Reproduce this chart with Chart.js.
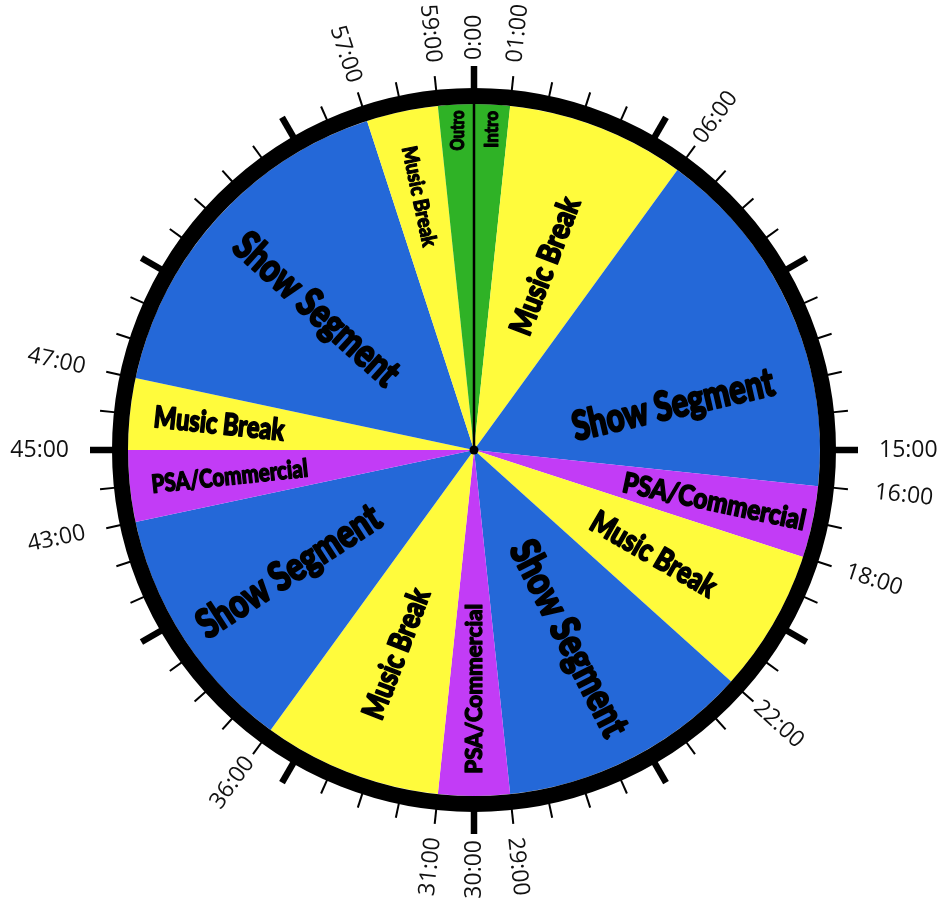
<!DOCTYPE html>
<html>
<head>
<meta charset="utf-8"/>
<title>Show clock</title>
<script src="https://cdn.jsdelivr.net/npm/chart.js"></script>
<style>
  html, body { margin: 0; padding: 0; background: #fff; }
  #wrap { width: 946px; height: 907px; }
</style>
</head>
<body>
<div id="wrap"><canvas id="clock"></canvas></div>
<script>
// one hour of the show, in minutes, clockwise from 0:00
var segments = ['Intro', 'Music Break', 'Show Segment', 'PSA/Commercial', 'Music Break',
                'Show Segment', 'PSA/Commercial', 'Music Break', 'Show Segment', 'PSA/Commercial',
                'Music Break', 'Show Segment', 'Music Break', 'Outro'];
var minutes = [1, 5, 10, 2, 4, 7, 2, 5, 7, 2, 2, 10, 2, 1];
var tickMinutes = [0, 1, 6, 15, 16, 18, 22, 29, 30, 31, 36, 43, 45, 47, 57, 59];
var tickLabels = ['0:00', '01:00', '06:00', '15:00', '16:00', '18:00', '22:00', '29:00',
                  '30:00', '31:00', '36:00', '43:00', '45:00', '47:00', '57:00', '59:00'];

var colours = {
    'Intro': '#2fb226', 'Outro': '#2fb226',
    'Music Break': '#fffb3c',
    'Show Segment': '#2468d8',
    'PSA/Commercial': '#c23cf6'
};

// label look per wedge: radius (share of pie radius), font px, text length px, angle shift (deg)
var labelStyle = [
    { r: 0.928, px: 19, len: 37 },
    { r: 0.57,  px: 31, len: 145 },
    { r: 0.59,  px: 40, len: 206, shift: 11 },
    { r: 0.71,  px: 28, len: 186 },
    { r: 0.60,  px: 31, len: 140 },
    { r: 0.61,  px: 40, len: 214 },
    { r: 0.69,  px: 22, len: 170 },
    { r: 0.63,  px: 31, len: 137 },
    { r: 0.64,  px: 40, len: 211 },
    { r: 0.71,  px: 25, len: 157 },
    { r: 0.74,  px: 30, len: 131 },
    { r: 0.61,  px: 40, len: 208 },
    { r: 0.75,  px: 21, len: 102 },
    { r: 0.925, px: 19, len: 40 }
];

function norm(a) {
    while (a > 180) a -= 360;
    while (a <= -180) a += 360;
    return a;
}

var clockFace = {
    id: 'clockFace',
    afterDatasetsDraw: function(chart) {
        var ctx = chart.ctx;
        var arcs = chart.getDatasetMeta(0).data;
        var cx = arcs[0].x, cy = arcs[0].y, R = arcs[0].outerRadius;
        var total = minutes.reduce(function(a, b) { return a + b; }, 0);
        var deg = Math.PI / 180;

        ctx.save();

        // wedge labels
        arcs.forEach(function(arc, i) {
            var st = labelStyle[i];
            var mid = (arc.startAngle + arc.endAngle) / 2 / deg + 90 + (st.shift || 0);
            var rot = norm(mid - 90);
            if (rot > 92) rot -= 180;
            if (rot < -92) rot += 180;
            if (Math.abs(Math.abs(rot) - 90) < 4) rot = -90;
            var x = cx + R * st.r * Math.sin(mid * deg);
            var y = cy - R * st.r * Math.cos(mid * deg);
            ctx.save();
            ctx.translate(x, y);
            ctx.rotate(rot * deg);
            ctx.font = '900 ' + st.px + 'px "Lato Black", Lato, Roboto, "DejaVu Sans"';
            var w = ctx.measureText(segments[i]).width;
            ctx.scale(st.len / w, 1);
            ctx.fillStyle = '#000';
            ctx.strokeStyle = '#000';
            ctx.lineWidth = st.px / 18;
            ctx.lineJoin = 'round';
            ctx.textAlign = 'center';
            ctx.textBaseline = 'middle';
            ctx.fillText(segments[i], 0, 1);
            ctx.strokeText(segments[i], 0, 1);
            ctx.restore();
        });

        // hand to 0:00
        ctx.strokeStyle = '#000';
        ctx.lineWidth = 2.5;
        ctx.beginPath();
        ctx.moveTo(cx, cy);
        ctx.lineTo(cx, cy - R);
        ctx.stroke();

        // rim
        ctx.lineWidth = 16;
        ctx.beginPath();
        ctx.arc(cx, cy, R + 8, 0, Math.PI * 2);
        ctx.stroke();

        // minute ticks
        for (var m = 0; m < total; m++) {
            var a = m / total * 360 * deg;
            var major = m % 5 === 0;
            var r0 = R + 14, r1 = major ? R + 38 : R + 30;
            ctx.lineWidth = major ? 6.5 : 2;
            ctx.beginPath();
            ctx.moveTo(cx + r0 * Math.sin(a), cy - r0 * Math.cos(a));
            ctx.lineTo(cx + r1 * Math.sin(a), cy - r1 * Math.cos(a));
            ctx.stroke();
        }

        // hub
        ctx.fillStyle = '#000';
        ctx.beginPath();
        ctx.arc(cx, cy, 4.5, 0, Math.PI * 2);
        ctx.fill();

        // time labels
        ctx.font = '400 23px "Open Sans", "Noto Sans", sans-serif';
        ctx.fillStyle = '#111';
        ctx.textBaseline = 'middle';
        tickMinutes.forEach(function(m, i) {
            var t = m / total * 360;
            var a = t * deg;
            var outward = t < 180;
            var rot = outward ? t - 90 : t + 90;
            var c = Math.abs(Math.cos(rot * deg)), s = Math.abs(Math.sin(rot * deg));
            var rl = R + 34 + 25 * Math.pow(c, 16) + 10 * Math.pow(s, 8);
            ctx.save();
            ctx.translate(cx + rl * Math.sin(a), cy - rl * Math.cos(a));
            ctx.rotate(rot * deg);
            ctx.textAlign = outward ? 'left' : 'right';
            ctx.fillText(tickLabels[i], 0, 0);
            ctx.restore();
        });

        ctx.restore();
    }
};

new Chart(document.getElementById('clock'), {
    type: 'pie',
    data: {
        labels: segments,
        datasets: [{
            data: minutes,
            backgroundColor: segments.map(function(s) { return colours[s]; }),
            borderWidth: 0
        }]
    },
    options: {
        responsive: true,
        maintainAspectRatio: false,
        animation: false,
        layout: { padding: { left: 128, right: 126, top: 104, bottom: 111 } },
        plugins: {
            legend: { display: false },
            tooltip: { enabled: false }
        }
    },
    plugins: [clockFace]
});
</script>
</body>
</html>
